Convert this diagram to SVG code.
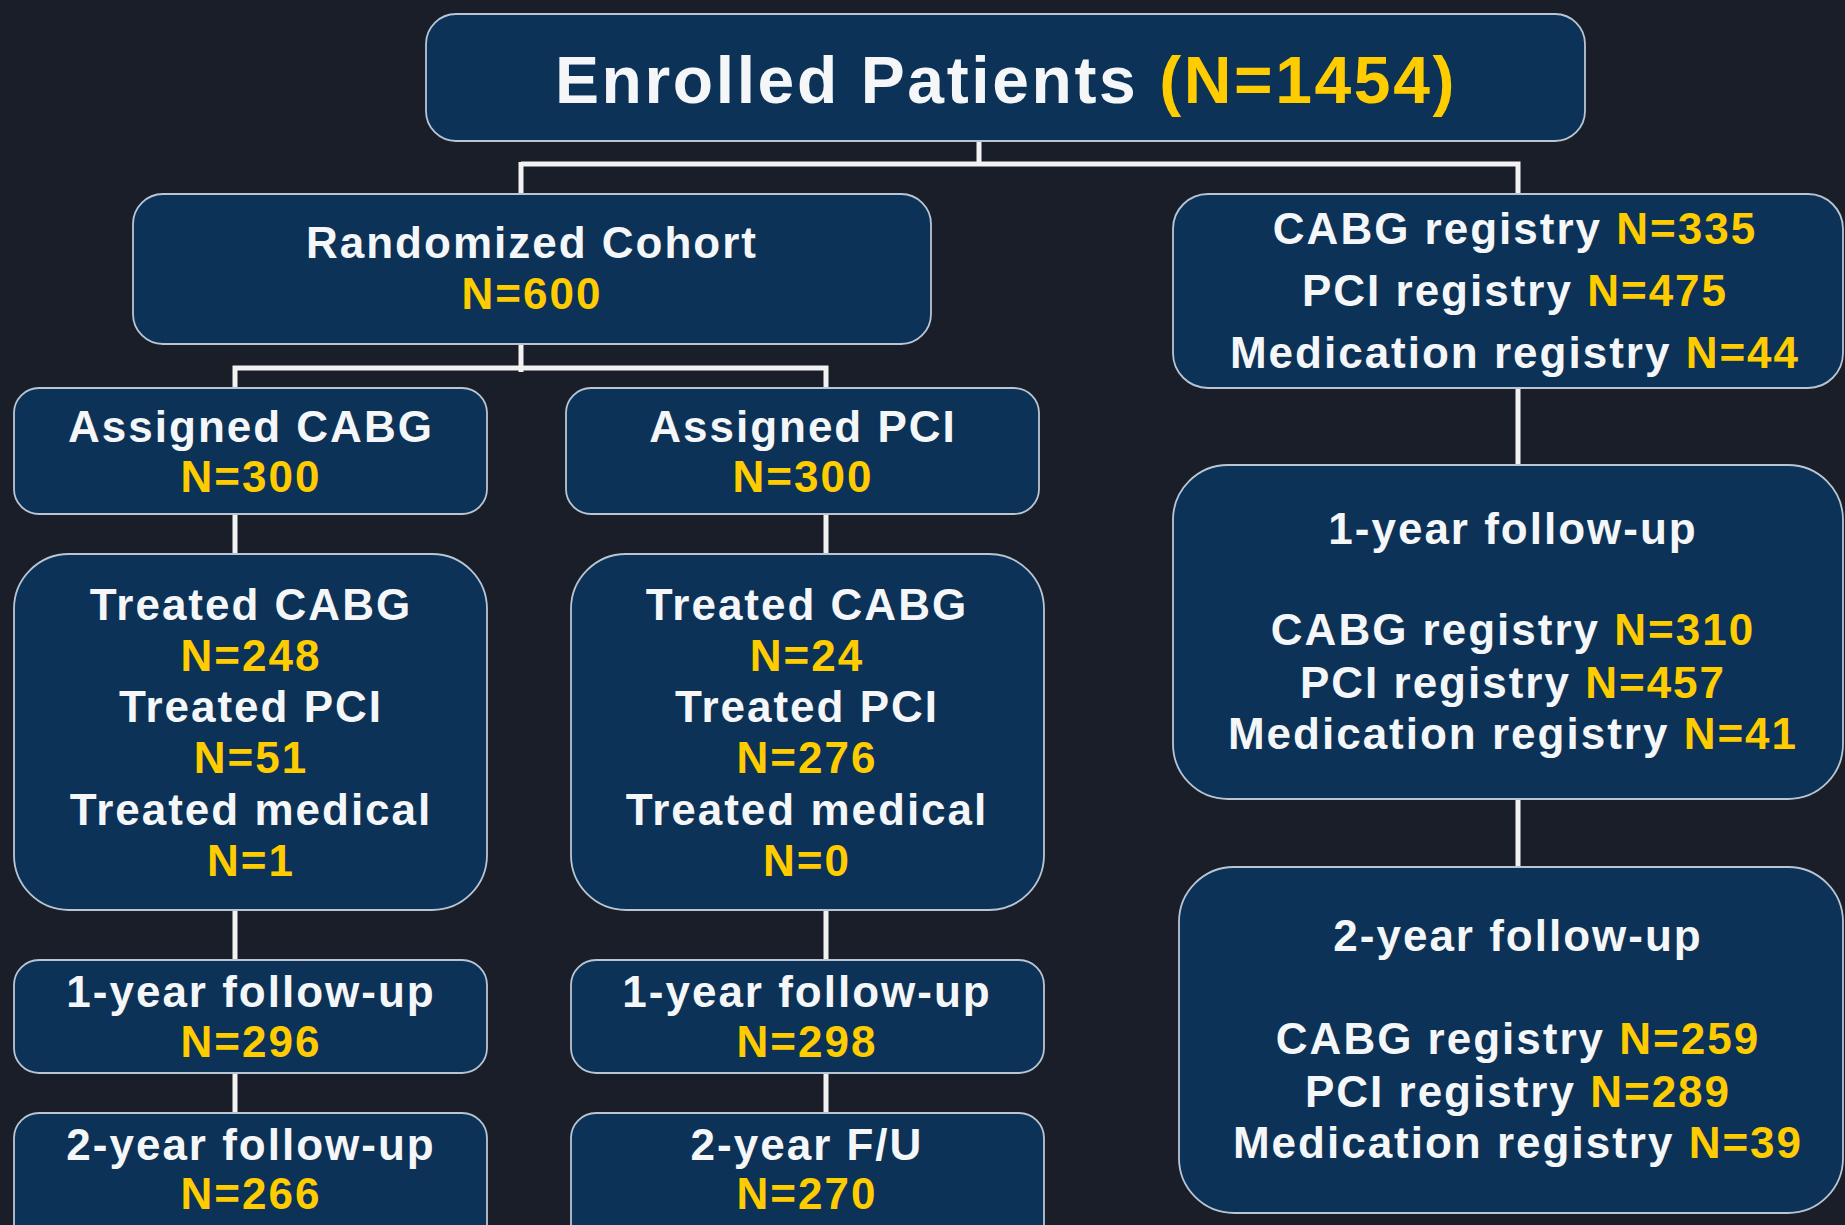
<svg xmlns="http://www.w3.org/2000/svg" width="1845" height="1225" viewBox="0 0 1845 1225">
  <style>
    .box { fill: #0c3257; stroke: #b9c5d3; stroke-width: 1.8; }
    .wire { fill: none; stroke: #f2f2f2; stroke-width: 5; stroke-linecap: butt; stroke-linejoin: miter; }
    text { font-family: "Liberation Sans", Arial, Helvetica, sans-serif; font-weight: bold; fill: #f4f6f8; text-anchor: middle; font-size: 44px; letter-spacing: 2px; }
    .n { fill: #ffcc00; }
    .title { font-size: 66px; letter-spacing: 2.6px; }
  </style>

  <rect x="0" y="0" width="1845" height="1225" fill="#1a1e29"/>

  <!-- connectors -->
  <g id="connectors">
    <path class="wire" d="M979 141 V166 M521 164 H1518 V194 M521 162 V194"/>
    <path class="wire" d="M521 344 V372 M235 388 V368 H826 V388"/>
    <path class="wire" d="M235 514 V554 M826 514 V554"/>
    <path class="wire" d="M235 910 V960 M826 910 V960"/>
    <path class="wire" d="M235 1073 V1113 M826 1073 V1113"/>
    <path class="wire" d="M1518 388 V465 M1518 799 V867"/>
  </g>

  <!-- top: all enrolled -->
  <g id="enrolled">
    <rect class="box" x="426" y="14" width="1159" height="127" rx="30"/>
    <text class="title" x="1006" y="103">Enrolled Patients <tspan class="n">(N=1454)</tspan></text>
  </g>

  <!-- randomized arm -->
  <g id="randomized">
    <rect class="box" x="133" y="194" width="798" height="150" rx="30"/>
    <text x="532" y="258">Randomized Cohort</text>
    <text class="n" x="532" y="309">N=600</text>
  </g>

  <g id="assigned-cabg">
    <rect class="box" x="14" y="388" width="473" height="126" rx="25"/>
    <text x="251" y="442">Assigned CABG</text>
    <text class="n" x="251" y="492">N=300</text>
  </g>

  <g id="assigned-pci">
    <rect class="box" x="566" y="388" width="473" height="126" rx="25"/>
    <text x="803" y="442">Assigned PCI</text>
    <text class="n" x="803" y="492">N=300</text>
  </g>

  <g id="treated-cabg-arm">
    <rect class="box" x="14" y="554" width="473" height="356" rx="55"/>
    <text x="251" y="620">Treated CABG</text>
    <text class="n" x="251" y="671">N=248</text>
    <text x="251" y="722">Treated PCI</text>
    <text class="n" x="251" y="773">N=51</text>
    <text x="251" y="825">Treated medical</text>
    <text class="n" x="251" y="876">N=1</text>
  </g>

  <g id="treated-pci-arm">
    <rect class="box" x="571" y="554" width="473" height="356" rx="55"/>
    <text x="807" y="620">Treated CABG</text>
    <text class="n" x="807" y="671">N=24</text>
    <text x="807" y="722">Treated PCI</text>
    <text class="n" x="807" y="773">N=276</text>
    <text x="807" y="825">Treated medical</text>
    <text class="n" x="807" y="876">N=0</text>
  </g>

  <g id="cabg-1yr">
    <rect class="box" x="14" y="960" width="473" height="113" rx="25"/>
    <text x="251" y="1007">1-year follow-up</text>
    <text class="n" x="251" y="1057">N=296</text>
  </g>

  <g id="pci-1yr">
    <rect class="box" x="571" y="960" width="473" height="113" rx="25"/>
    <text x="807" y="1007">1-year follow-up</text>
    <text class="n" x="807" y="1057">N=298</text>
  </g>

  <g id="cabg-2yr">
    <rect class="box" x="14" y="1113" width="473" height="140" rx="25"/>
    <text x="251" y="1160">2-year follow-up</text>
    <text class="n" x="251" y="1209">N=266</text>
  </g>

  <g id="pci-2yr">
    <rect class="box" x="571" y="1113" width="473" height="140" rx="25"/>
    <text x="807" y="1160">2-year F/U</text>
    <text class="n" x="807" y="1209">N=270</text>
  </g>

  <!-- registry column -->
  <g id="registry">
    <rect class="box" x="1173" y="194" width="670" height="194" rx="35"/>
    <text x="1515" y="244">CABG registry <tspan class="n">N=335</tspan></text>
    <text x="1515" y="306">PCI registry <tspan class="n">N=475</tspan></text>
    <text x="1515" y="368">Medication registry <tspan class="n">N=44</tspan></text>
  </g>

  <g id="registry-1yr">
    <rect class="box" x="1173" y="465" width="670" height="334" rx="55"/>
    <text x="1513" y="544">1-year follow-up</text>
    <text x="1513" y="645">CABG registry <tspan class="n">N=310</tspan></text>
    <text x="1513" y="698">PCI registry <tspan class="n">N=457</tspan></text>
    <text x="1513" y="749">Medication registry <tspan class="n">N=41</tspan></text>
  </g>

  <g id="registry-2yr">
    <rect class="box" x="1179" y="867" width="664" height="346" rx="55"/>
    <text x="1518" y="951">2-year follow-up</text>
    <text x="1518" y="1054">CABG registry <tspan class="n">N=259</tspan></text>
    <text x="1518" y="1107">PCI registry <tspan class="n">N=289</tspan></text>
    <text x="1518" y="1158">Medication registry <tspan class="n">N=39</tspan></text>
  </g>
</svg>
